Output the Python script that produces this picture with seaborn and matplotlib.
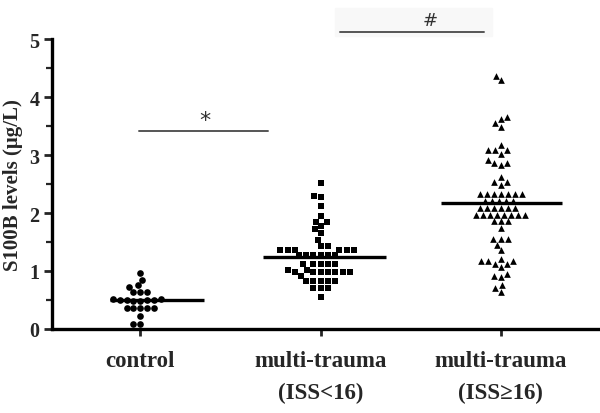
import matplotlib
matplotlib.use("Agg")
import matplotlib.pyplot as plt
import seaborn as sns
import pandas as pd
import numpy as np

categories = ["control", "multi-trauma\n(ISS<16)", "multi-trauma\n(ISS≥16)"]

control_vals = [0.97, 0.85, 0.75, 0.73, 0.64, 0.64, 0.64,
                0.51, 0.51, 0.50, 0.50, 0.50, 0.50, 0.49, 0.49,
                0.37, 0.37, 0.36, 0.36, 0.37, 0.22, 0.09, 0.09]

mild_vals = [2.52, 2.30, 2.27, 2.13, 1.95, 1.85, 1.85, 1.77, 1.72, 1.65, 1.54, 1.43, 1.43,
             1.37, 1.37, 1.37, 1.37, 1.37, 1.37,
             1.27, 1.27, 1.27, 1.27, 1.27, 1.27,
             1.12, 1.12, 1.12, 1.12, 1.12,
             1.02, 1.02, 0.98, 0.98, 0.98, 0.98, 0.98, 0.98, 0.98, 0.92,
             0.83, 0.83, 0.83, 0.83, 0.83, 0.71, 0.71, 0.71, 0.56]

severe_vals = [4.37, 4.29, 3.66, 3.62, 3.55, 3.49, 3.18, 3.08, 3.08, 3.08, 3.02, 2.92, 2.87,
               2.86, 2.83, 2.63, 2.53, 2.53, 2.49,
               2.33, 2.33, 2.33, 2.33, 2.33, 2.33, 2.33,
               2.20, 2.20, 2.20, 2.20, 2.20,
               2.09, 2.09, 2.09, 2.09, 2.09, 2.09,
               1.96, 1.96, 1.96, 1.96, 1.96, 1.96, 1.96, 1.96,
               1.86, 1.86, 1.86, 1.74, 1.55, 1.55, 1.55, 1.45, 1.36,
               1.17, 1.17, 1.17, 1.21, 1.12, 1.12, 1.07, 0.92, 0.90, 0.94, 0.76, 0.71, 0.64]

medians = [0.50, 1.25, 2.17]
y_ticks = [0, 1, 2, 3, 4, 5]

# style constants
markers = ["o", "s", "^"]
msizes = [4.8, 5.0, 4.8]
line_extent = [(-0.17, 0.35), (-0.32, 0.36), (-0.33, 0.34)]

sns.set_theme(style="white")
plt.rcParams["font.family"] = ["Liberation Serif", "DejaVu Serif"]

fig = plt.figure(figsize=(6.0, 4.14), dpi=100)
ax = fig.add_axes([0.087, 0.203, 0.913, 0.700])

groups = [control_vals, mild_vals, severe_vals]
for i, vals in enumerate(groups):
    df = pd.DataFrame({"group": pd.Categorical([categories[i]] * len(vals), categories=categories),
                       "value": vals})
    sns.swarmplot(data=df, x="group", y="value", order=categories, marker=markers[i],
                  size=msizes[i], color="black", linewidth=0, ax=ax)

for i, m in enumerate(medians):
    ax.hlines(m, i + line_extent[i][0], i + line_extent[i][1], color="black", lw=2.4, zorder=5)

ax.set_xlim(-0.49, 2.55)
ax.set_ylim(0, 5)
ax.set_yticks(y_ticks)
ax.set_yticks(np.arange(0.5, 5, 1.0), minor=True)
ax.set_yticklabels([str(t) for t in y_ticks], fontsize=14.5, fontweight="bold")
ax.set_xticks(range(len(categories)))
ax.set_xticklabels(categories, fontsize=16.5, fontweight="bold", linespacing=1.7)
ax.set_xlabel("")
ax.set_ylabel("S100B levels (μg/L)", fontsize=15, fontweight="bold", labelpad=5)

for side in ["top", "right"]:
    ax.spines[side].set_visible(False)
for side in ["left", "bottom"]:
    ax.spines[side].set_linewidth(2.4)
    ax.spines[side].set_color("black")
ax.tick_params(axis="y", which="major", direction="out", length=6, width=2, left=True, pad=3)
ax.tick_params(axis="y", which="minor", direction="out", length=4, width=1.6, left=True)
ax.tick_params(axis="x", which="major", direction="out", length=5, width=2, bottom=True, pad=10)

# significance annotations
ax.plot([-0.01, 0.71], [3.41, 3.41], color="#555555", lw=1.4, clip_on=False)
ax.text(0.36, 3.44, "*", ha="center", va="bottom", fontsize=16, color="#333333",
        family="DejaVu Sans")
ax.add_patch(plt.Rectangle((1.08, 5.05), 0.87, 0.48, color="#f8f8f8", clip_on=False, zorder=0))
ax.plot([1.105, 1.905], [5.12, 5.12], color="#555555", lw=1.4, clip_on=False)
ax.text(1.61, 5.17, "#", ha="center", va="bottom", fontsize=13, color="#333333",
        family="DejaVu Sans")

fig.savefig("out.png", dpi=100)
